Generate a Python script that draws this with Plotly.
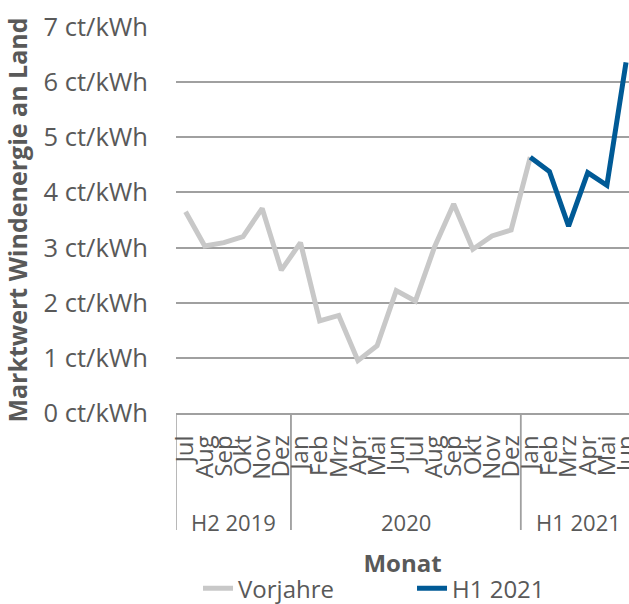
import plotly.graph_objects as go

months = ["Jul", "Aug", "Sep", "Okt", "Nov", "Dez",
          "Jan", "Feb", "Mrz", "Apr", "Mai", "Jun", "Jul", "Aug", "Sep", "Okt", "Nov", "Dez",
          "Jan", "Feb", "Mrz", "Apr", "Mai", "Jun"]
groups = ["H2 2019"] * 6 + ["2020"] * 12 + ["H1 2021"] * 6

vorjahre = [3.65, 3.03, 3.09, 3.20, 3.71, 2.59,
            3.09, 1.67, 1.77, 0.95, 1.22, 2.22, 2.03, 3.01, 3.79, 2.97, 3.21, 3.32,
            4.64]
h1_2021 = [4.64, 4.38, 3.39, 4.36, 4.13, 6.36]

pos = list(range(len(months)))
n_prev = len(vorjahre)
x_prev = pos[:n_prev]
x_new = pos[n_prev - 1:]

TEXT = "#595959"
GRID = "#a0a0a0"
FONT = "Open Sans"

fig = go.Figure()
fig.add_trace(go.Scatter(x=x_prev, y=vorjahre, mode="lines", name="Vorjahre",
                         line=dict(color="#c8c8c8", width=5)))
fig.add_trace(go.Scatter(x=x_new, y=h1_2021, mode="lines", name="H1 2021",
                         line=dict(color="#005a96", width=5)))

# group labels and dividers derived from the group list
group_names = []
for g in groups:
    if g not in group_names:
        group_names.append(g)
DIV_BOTTOM = -0.303
for g in group_names:
    idx = [i for i, gg in enumerate(groups) if gg == g]
    lo, hi = idx[0] - 0.5, idx[-1] + 0.5
    fig.add_annotation(x=(lo + hi) / 2, y=-0.282, xref="x", yref="paper",
                       text=g, showarrow=False, yanchor="middle",
                       font=dict(size=22, color=TEXT, family=FONT))
    for b in (lo, hi):
        fig.add_shape(type="line", xref="x", yref="paper", x0=b, x1=b, y0=0, y1=DIV_BOTTOM,
                      line=dict(color=GRID, width=1.5), layer="below")

fig.update_layout(
    width=629, height=604,
    margin=dict(l=176, r=0, t=27, b=191, autoexpand=False),
    plot_bgcolor="white", paper_bgcolor="white",
    font=dict(family=FONT, color=TEXT, size=24),
    showlegend=True,
    legend=dict(orientation="h", x=0.0486, xanchor="left", y=-0.397, yanchor="top",
                font=dict(size=24, color=TEXT), entrywidth=169, entrywidthmode="pixels",
                bgcolor="rgba(0,0,0,0)"),
    xaxis=dict(tickmode="array", tickvals=pos, ticktext=months, tickangle=-90,
               tickfont=dict(size=24, color=TEXT), ticklabelstandoff=11,
               ticklabeloverflow="allow",
               showline=True, linecolor=GRID, linewidth=1.5, mirror=False,
               ticks="", showgrid=False, zeroline=False,
               range=[-0.5, 23.155], automargin=False,
               title=dict(text="<b>Monat</b>", font=dict(size=24, color=TEXT), standoff=76)),
    yaxis=dict(range=[0, 7], dtick=1, ticksuffix=" ct/kWh",
               showgrid=True, gridcolor=GRID, gridwidth=1.6, zeroline=False,
               tickfont=dict(size=25.5, color=TEXT), ticklabelstandoff=27, automargin=False,
               title=dict(text="<b>Marktwert Windenergie an Land</b>",
                          font=dict(size=25, color=TEXT), standoff=15)),
)

fig.write_html("out.html", config={"displayModeBar": False},
               post_script="document.body.style.margin='0';document.body.style.overflow='hidden';")
